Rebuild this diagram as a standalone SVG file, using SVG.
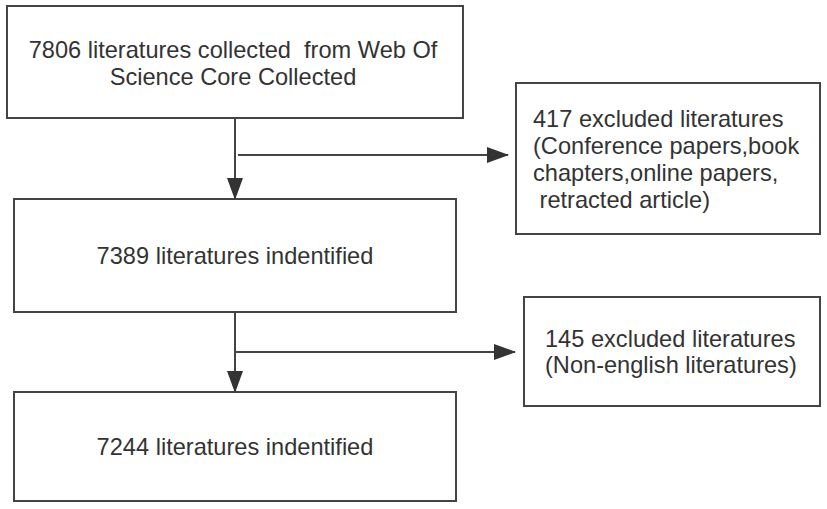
<svg xmlns="http://www.w3.org/2000/svg" width="827" height="509" viewBox="0 0 827 509">
<defs>
<style>
.box{fill:#fff;stroke:#444;stroke-width:2}
.t{font-family:"Liberation Sans",Arial,sans-serif;font-size:23.6px;fill:#333;white-space:pre}
.c{text-anchor:middle}
.ln{stroke:#444;stroke-width:2;fill:none}
</style>
<marker id="ah" markerUnits="userSpaceOnUse" markerWidth="22" markerHeight="16" refX="21" refY="8" orient="auto" viewBox="0 0 22 16">
<path d="M0,0 L22,8 L0,16 Z" fill="#333"/>
</marker>
</defs>
<rect width="827" height="509" fill="#fff"/>
<g id="n1"><rect class="box" x="7" y="6" width="456" height="112"/>
<text class="t c" x="233" y="58" xml:space="preserve">7806 literatures collected  from Web Of</text>
<text class="t c" x="233" y="85">Science Core Collected</text></g>
<g id="n2"><rect class="box" x="14" y="199" width="442" height="113"/>
<text class="t c" x="235" y="264">7389 literatures indentified</text></g>
<g id="n3"><rect class="box" x="14" y="392" width="442" height="109"/>
<text class="t c" x="235" y="455">7244 literatures indentified</text></g>
<g id="n4"><rect class="box" x="516" y="83" width="304" height="151"/>
<text class="t" x="533" y="127">417 excluded literatures</text>
<text class="t" x="533" y="154">(Conference papers,book</text>
<text class="t" x="533" y="181">chapters,online papers,</text>
<text class="t" x="533" y="208" xml:space="preserve"> retracted article)</text></g>
<g id="n5"><rect class="box" x="524" y="297" width="296" height="109"/>
<text class="t" x="545" y="346.5">145 excluded literatures</text>
<text class="t" x="545" y="373">(Non-english literatures)</text></g>
<g id="connectors">
<line class="ln" x1="235" y1="118" x2="235" y2="199" marker-end="url(#ah)"/>
<line class="ln" x1="238" y1="155" x2="508" y2="155" marker-end="url(#ah)"/>
<line class="ln" x1="235" y1="312" x2="235" y2="392" marker-end="url(#ah)"/>
<line class="ln" x1="236" y1="352" x2="515" y2="352" marker-end="url(#ah)"/>
</g>
</svg>
